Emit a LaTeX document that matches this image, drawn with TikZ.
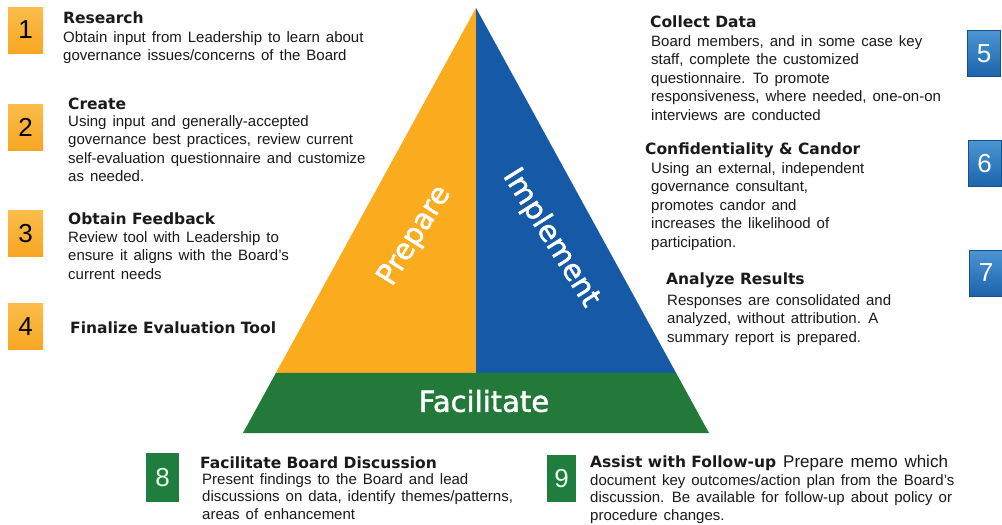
\documentclass[tikz,border=0pt]{standalone}
\usepackage{fontspec}
\setmainfont{Liberation Sans}
\newfontfamily\dejavu{DejaVu Sans}
\newfontfamily\trifont{DejaVu Sans}[FakeBold=1.6]
\usetikzlibrary{calc}
\definecolor{porange}{HTML}{FAAB1E}
\definecolor{pblue}{HTML}{1559A7}
\definecolor{pgreen}{HTML}{23793A}
\definecolor{txt}{HTML}{1A1A1A}
\definecolor{otop}{HTML}{FBBD4A}
\definecolor{obot}{HTML}{F7A623}
\definecolor{btop}{HTML}{4B95D2}
\definecolor{bbot}{HTML}{1C64AC}
\definecolor{gbox}{HTML}{1F7D3D}
\newcommand\wsp{\spaceskip 0.4em plus 0.1em minus 0.05em\relax}
\newcommand\bodyfontA{\fontsize{15}{18.5}\selectfont\wsp}
\newcommand\bodyfontB{\fontsize{15}{17.5}\selectfont\wsp}
\begin{document}
\begin{tikzpicture}[x=1pt,y=-1pt,
  title/.style={anchor=base west, inner sep=0, font=\dejavu\bfseries\fontsize{15.5}{18}\selectfont, text=txt},
  body/.style={anchor=north west, inner sep=0, align=left, font=\bodyfontA, text=txt},
  bodyb/.style={body, font=\bodyfontB},
  numbox/.style={minimum width=35pt, minimum height=46pt, inner sep=0, font=\fontsize{26}{26}\selectfont},
  obox/.style={numbox, top color=otop, bottom color=obot, text=black},
  bbox/.style={numbox, minimum width=33pt, top color=btop, bottom color=bbot, draw=bbot!80!black, line width=0.6pt, text=white},
  gnbox/.style={numbox, fill=gbox, text=white!92!green},
  tri/.style={text=white, inner sep=0, font=\trifont\fontsize{29}{29}\selectfont}]
\useasboundingbox[fill=white] (0,0) rectangle (1002,525);

% triangle
\coordinate (apex) at (476,8);
\coordinate (bl) at (243,433);
\coordinate (br) at (709,433);
\coordinate (ml) at ($(apex)!0.8588!(bl)$);
\coordinate (mr) at ($(apex)!0.8588!(br)$);
\coordinate (mc) at ($(ml)!0.5!(mr)$);
\fill[porange] (apex) -- (ml) -- (mc) -- cycle;
\fill[pblue] (apex) -- (mc) -- (mr) -- cycle;
\fill[pgreen] (ml) -- (mr) -- (br) -- (bl) -- cycle;
\node[tri, rotate=58] (prep) at (415,236) {Prepare};
\node[tri, rotate=-58] (impl) at (551,238) {Implement};
\node[tri] (fac) at (484,401) {Facilitate};

% number boxes
\node[obox] (n1) at (25.5,30) {1};
\node[obox] (n2) at (25.5,127) {2};
\node[obox] (n3) at (25.5,233.5) {3};
\node[obox] (n4) at (25.5,326.5) {4};
\node[bbox] (n5) at (984,53.5) {5};
\node[bbox] (n6) at (984.5,163.5) {6};
\node[bbox] (n7) at (986,273) {7};
\node[gnbox, minimum width=33pt, minimum height=49pt] (n8) at (162.5,477.5) {8};
\node[gnbox, minimum width=29pt, minimum height=47pt] (n9) at (561.5,478.5) {9};

% item 1
\node[title] (t1) at (63,23) {Research};
\node[body] (b1) at (63,31) {Obtain input from Leadership to learn about\\governance issues/concerns of the Board};
% item 2
\node[title] (t2) at (68,109) {Create};
\node[body] (b2) at (68,115) {Using input and generally-accepted\\governance best practices, review current\\self-evaluation questionnaire and customize\\as needed.};
% item 3
\node[title] (t3) at (68,224) {Obtain Feedback};
\node[body] (b3) at (68,231) {Review tool with Leadership to\\ensure it aligns with the Board's\\current needs};
% item 4
\node[title] (t4) at (70,333) {Finalize Evaluation Tool};
% item 5
\node[title] (t5) at (650,27) {Collect Data};
\node[body] (b5) at (651,35) {Board members, and in some case key\\staff, complete the customized\\questionnaire. To promote\\responsiveness, where needed, one-on-on\\interviews are conducted};
% item 6
\node[title] (t6) at (645,154) {Confidentiality \& Candor};
\node[body] (b6) at (651,162) {Using an external, independent\\governance consultant,\\promotes candor and\\increases the likelihood of\\participation.};
% item 7
\node[title] (t7) at (666,284) {Analyze Results};
\node[body] (b7) at (667,294) {Responses are consolidated and\\analyzed, without attribution. A\\summary report is prepared.};
% item 8
\node[title] (t8) at (200,468) {Facilitate Board Discussion};
\node[bodyb] (b8) at (202,473) {Present findings to the Board and lead\\discussions on data, identify themes/patterns,\\areas of enhancement};
% item 9
\node[title] (t9) at (590,467) {Assist with Follow-up\hspace{7pt}{\rmfamily\mdseries\fontsize{17}{18}\selectfont\wsp Prepare memo which}};
\node[bodyb] (b9) at (590,474) {document key outcomes/action plan from the Board's\\discussion. Be available for follow-up about policy or\\procedure changes.};
\end{tikzpicture}
\end{document}
